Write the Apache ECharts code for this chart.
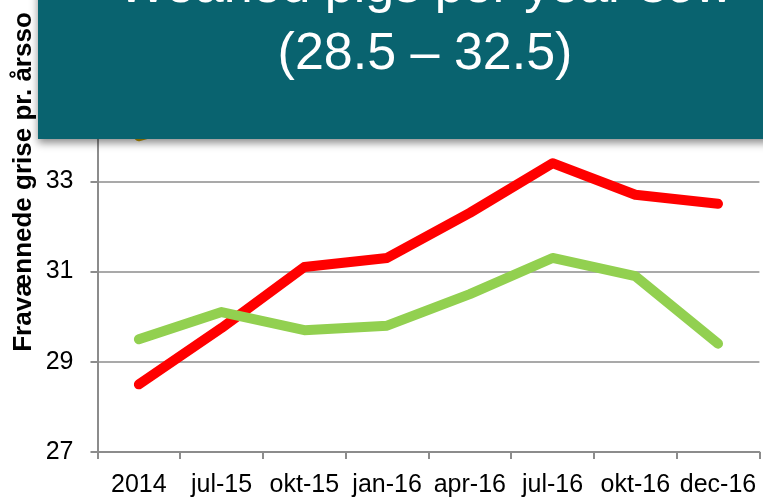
<!DOCTYPE html>
<html>
<head>
<meta charset="utf-8">
<script src="https://cdn.jsdelivr.net/npm/echarts@6/dist/echarts.min.js"></script>
<style>
html,body{margin:0;padding:0;background:#fff;}
#c{width:763px;height:498px;}
</style>
</head>
<body>
<div id="c"></div>
<script>
var categories = ['2014', 'jul-15', 'okt-15', 'jan-16', 'apr-16', 'jul-16', 'okt-16', 'dec-16'];
var redValues = [28.5, 29.75, 31.1, 31.3, 32.3, 33.4, 32.7, 32.5];
var greenValues = [29.5, 30.1, 29.7, 29.8, 30.5, 31.3, 30.9, 29.4];
var goldValues = [34.0, 34.5, 34.7, 34.8, 34.9, 35.0, 34.9, 34.8];
var yTicks = { min: 27, max: 35, interval: 2 };
var titleLine1 = 'Weaned pigs per year sow';
var titleLine2 = '(28.5 \u2013 32.5)';
var yAxisTitle = 'Fravænnede grise pr. årsso';

var chart = echarts.init(document.getElementById('c'), null, { renderer: 'canvas' });
var font = 'Liberation Sans, Arial, sans-serif';
var gridColor = '#8c8c8c';

function lineSeries(name, data, color) {
  return {
    name: name, type: 'line', data: data, symbol: 'none', smooth: false,
    lineStyle: { color: color, width: 10, cap: 'round', join: 'round' },
    z: 3
  };
}

chart.setOption({
  animation: false,
  backgroundColor: '#ffffff',
  grid: { left: 97.5, right: 3.6, top: 91, bottom: 45.3, containLabel: false },
  xAxis: {
    type: 'category', data: categories, boundaryGap: true,
    axisLine: { lineStyle: { color: gridColor, width: 2 } },
    axisTick: { show: true, length: 7, lineStyle: { color: gridColor, width: 2 } },
    axisLabel: { color: '#000', fontFamily: font, fontSize: 25, margin: 21, interval: 0 },
    splitLine: { show: false }
  },
  yAxis: {
    type: 'value', min: yTicks.min, max: yTicks.max, interval: yTicks.interval,
    axisLine: { show: true, lineStyle: { color: gridColor, width: 2 } },
    axisTick: { show: true, length: 7, lineStyle: { color: gridColor, width: 2 } },
    axisLabel: { color: '#000', fontFamily: font, fontSize: 25, margin: 24 },
    splitLine: { show: true, lineStyle: { color: gridColor, width: 1.7 } }
  },
  series: [
    lineSeries('gold', goldValues, '#C9A000'),
    lineSeries('red', redValues, '#FF0000'),
    lineSeries('green', greenValues, '#92D050')
  ],
  graphic: [
    {
      type: 'rect', z: 100,
      shape: { x: 38, y: -20, width: 760, height: 159 },
      style: { fill: '#09636F', shadowBlur: 8, shadowOffsetY: 4, shadowColor: 'rgba(0,0,0,0.45)' }
    },
    {
      type: 'text', z: 101, x: 425, y: -38,
      style: { text: titleLine1, fill: '#fff', font: '52px ' + font, textAlign: 'center', textVerticalAlign: 'top' }
    },
    {
      type: 'text', z: 101, x: 425, y: 29,
      style: { text: titleLine2, fill: '#fff', font: '52px ' + font, textAlign: 'center', textVerticalAlign: 'top' }
    },
    {
      type: 'text', z: 101, x: 24, y: 182, rotation: Math.PI / 2,
      style: { text: yAxisTitle, fill: '#000', font: 'bold 26px ' + font, textAlign: 'center', textVerticalAlign: 'middle' }
    }
  ]
});
</script>
</body>
</html>
